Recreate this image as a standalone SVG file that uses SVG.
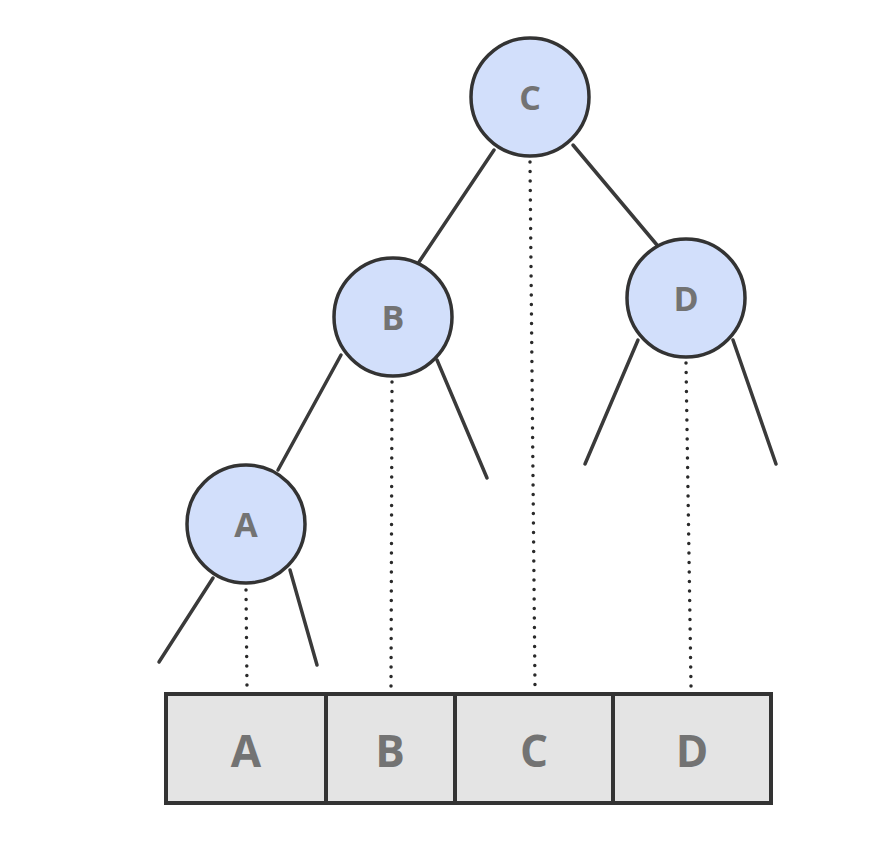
<svg xmlns="http://www.w3.org/2000/svg" width="880" height="856" viewBox="0 0 880 856">
<style>
.edge{stroke:#3a3a3a;stroke-width:3.5;fill:none;stroke-linecap:round}
.dot{stroke:#2a2a2a;stroke-width:3.5;fill:none;stroke-linecap:round;stroke-dasharray:0 9.5}
.node circle{fill:#d2dffb;stroke:#333;stroke-width:3.5}
.node text{font-family:"Open Sans","Liberation Sans",sans-serif;font-weight:bold;font-size:34px;fill:#737373;text-anchor:middle;dominant-baseline:central}
.cell rect{fill:#e4e4e4;stroke:#333;stroke-width:4}
.cell text{font-family:"Open Sans","Liberation Sans",sans-serif;font-weight:bold;font-size:44px;fill:#737373;text-anchor:middle;dominant-baseline:central}
</style>
<rect width="880" height="856" fill="#fff"/>
<g id="connectors">
<line class="edge" x1="494" y1="150" x2="419" y2="262"/>
<line class="edge" x1="573" y1="145" x2="657" y2="245"/>
<line class="dot" x1="530" y1="162" x2="535" y2="688"/>
<line class="edge" x1="341" y1="355" x2="278" y2="470"/>
<line class="edge" x1="437" y1="360" x2="487" y2="478"/>
<line class="dot" x1="392" y1="382" x2="391" y2="686"/>
<line class="edge" x1="638" y1="340" x2="585" y2="464"/>
<line class="edge" x1="733" y1="340" x2="776" y2="464"/>
<line class="dot" x1="686" y1="363" x2="691" y2="686"/>
<line class="edge" x1="213" y1="578" x2="159" y2="662"/>
<line class="edge" x1="290" y1="570" x2="317" y2="665"/>
<line class="dot" x1="246" y1="590" x2="247" y2="688"/>
</g>
<g id="nodeC" class="node"><circle cx="530" cy="97" r="59"/><text x="530" y="97">C</text></g>
<g id="nodeB" class="node"><circle cx="393" cy="317" r="59"/><text x="393" y="317">B</text></g>
<g id="nodeD" class="node"><circle cx="686" cy="298" r="59"/><text x="686" y="298">D</text></g>
<g id="nodeA" class="node"><circle cx="246" cy="524" r="59"/><text x="246" y="524">A</text></g>
<g id="cellA" class="cell"><rect x="166" y="694" width="160" height="109"/><text x="246" y="750">A</text></g>
<g id="cellB" class="cell"><rect x="326" y="694" width="129" height="109"/><text x="390" y="750">B</text></g>
<g id="cellC" class="cell"><rect x="455" y="694" width="158" height="109"/><text x="534" y="750">C</text></g>
<g id="cellD" class="cell"><rect x="613" y="694" width="158" height="109"/><text x="692" y="750">D</text></g>
</svg>
